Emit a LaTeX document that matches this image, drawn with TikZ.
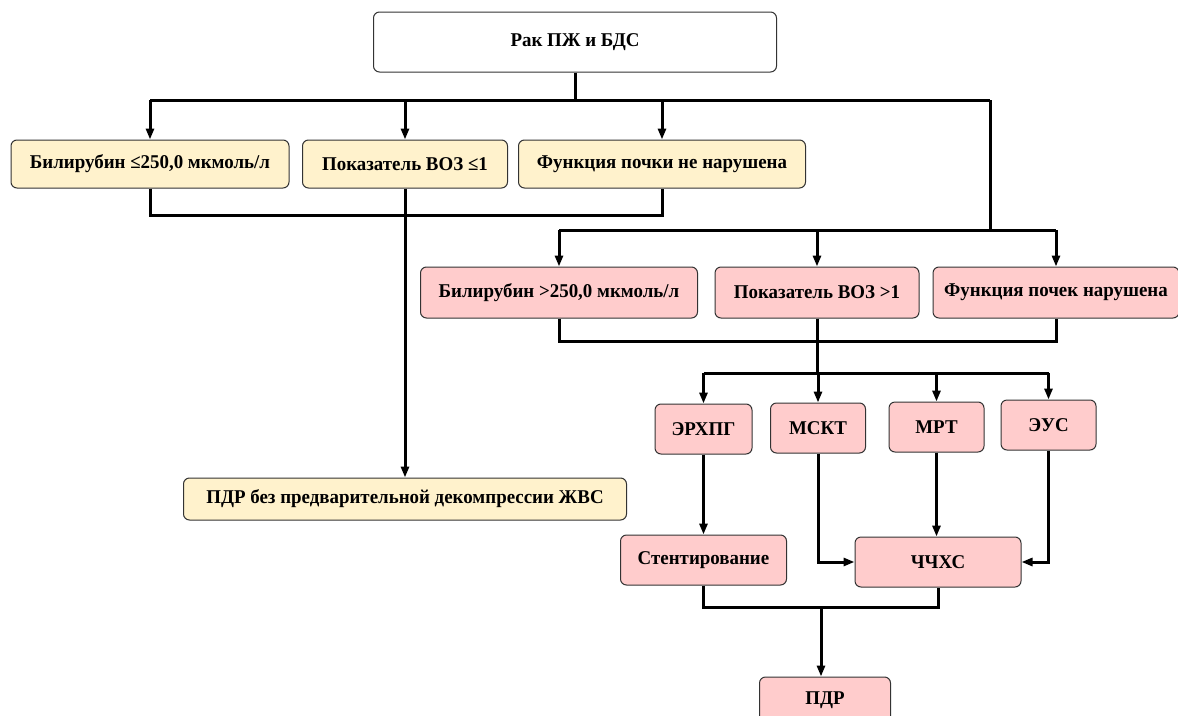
\documentclass[tikz,border=0pt]{standalone}
\usepackage{fontspec}
\setmainfont{Liberation Serif}[FakeStretch=0.97]
\usetikzlibrary{arrows.meta}
\definecolor{yfill}{HTML}{FFF2CC}
\definecolor{pfill}{HTML}{FFCCCC}
\definecolor{bord}{HTML}{333333}
\begin{document}
\begin{tikzpicture}[x=1pt,y=-1pt,
  box/.style={draw=bord, line width=1pt, rounded corners=6pt, inner sep=0pt,
    font=\bfseries\fontsize{19.5}{22}\selectfont, text=black},
  ybox/.style={box, fill=yfill},
  pbox/.style={box, fill=pfill},
  conn/.style={line width=3pt},
  arr/.style={conn, -{Triangle[length=11pt,width=8pt]}}]
\useasboundingbox (0,0) rectangle (1178,715);
\fill[white] (0,0) rectangle (1178,715);

% nodes
\node[box, fill=white, minimum width=403pt, minimum height=60pt] (top) at (575,42) {Рак ПЖ и БДС};
\node[ybox, minimum width=278pt, minimum height=48pt] (b1) at (150,164) {Билирубин ≤250,0 мкмоль/л};
\node[ybox, minimum width=205pt, minimum height=48pt] (b2) at (405,164) {Показатель ВОЗ ≤1};
\node[ybox, minimum width=287pt, minimum height=48pt] (b3) at (662,164) {Функция почки не нарушена};
\node[ybox, minimum width=443pt, minimum height=42pt] (b4) at (405,499) {ПДР без предварительной декомпрессии ЖВС};

\node[pbox, minimum width=277pt, minimum height=51pt] (p1) at (559,292.5) {Билирубин >250,0 мкмоль/л};
\node[pbox, minimum width=204pt, minimum height=51pt] (p2) at (817,292.5) {Показатель ВОЗ >1};
\node[pbox, minimum width=246pt, minimum height=51pt] (p3) at (1056,292.5) {Функция почек нарушена};

\node[pbox, minimum width=97pt, minimum height=50pt] (e1) at (703.5,429) {ЭРХПГ};
\node[pbox, minimum width=95pt, minimum height=50pt] (e2) at (818,428) {МСКТ};
\node[pbox, minimum width=95pt, minimum height=50pt] (e3) at (936.5,427) {МРТ};
\node[pbox, minimum width=95pt, minimum height=50pt] (e4) at (1048.5,425) {ЭУС};
\node[pbox, minimum width=166pt, minimum height=50pt] (s1) at (703.5,560) {Стентирование};
\node[pbox, minimum width=166pt, minimum height=50pt] (c1) at (938,562) {ЧЧХС};
\node[pbox, minimum width=131pt, minimum height=46pt] (pdr) at (825,700) {ПДР};

% junction coordinates
\coordinate (h1) at (575,100);
\coordinate (h1l) at (150,100);
\coordinate (h1r) at (990,100);
\coordinate (h2r) at (990,230);
\coordinate (h3) at (817,373);
\coordinate (h4) at (821,607);

% connectors
\draw[conn] (top.south) -- (h1);
\draw[conn] (h1l) -- (h1r);
\draw[arr] (b1.north |- h1l) -- (b1.north);
\draw[arr] (b2.north |- h1l) -- (b2.north);
\draw[arr] (b3.north |- h1l) -- (b3.north);
\draw[conn] (b1.south) -- ++(0,27) -| (b3.south);
\draw[arr] (b2.south) -- (b4.north);

\draw[conn] (h1r) -- (h2r);
\draw[conn] (p1.north |- h2r) -- (p3.north |- h2r);
\draw[arr] (p1.north |- h2r) -- (p1.north);
\draw[arr] (p2.north |- h2r) -- (p2.north);
\draw[arr] (p3.north |- h2r) -- (p3.north);
\draw[conn] (p1.south) -- ++(0,23) -| (p3.south);
\draw[conn] (p2.south) -- (h3);
\draw[conn] (e1.north |- h3) -- (e4.north |- h3);
\draw[arr] (e1.north |- h3) -- (e1.north);
\draw[arr] (e2.north |- h3) -- (e2.north);
\draw[arr] (e3.north |- h3) -- (e3.north);
\draw[arr] (e4.north |- h3) -- (e4.north);

\draw[arr] (e1.south) -- (s1.north);
\draw[arr] (e2.south) |- (c1.west);
\draw[arr] (e3.south) -- (e3.south |- c1.north);
\draw[arr] (e4.south) |- (c1.east);
\draw[conn] (s1.south) -- ++(0,22) -| (c1.south);
\draw[arr] (h4) -- (h4 |- pdr.north);
\end{tikzpicture}
\end{document}
